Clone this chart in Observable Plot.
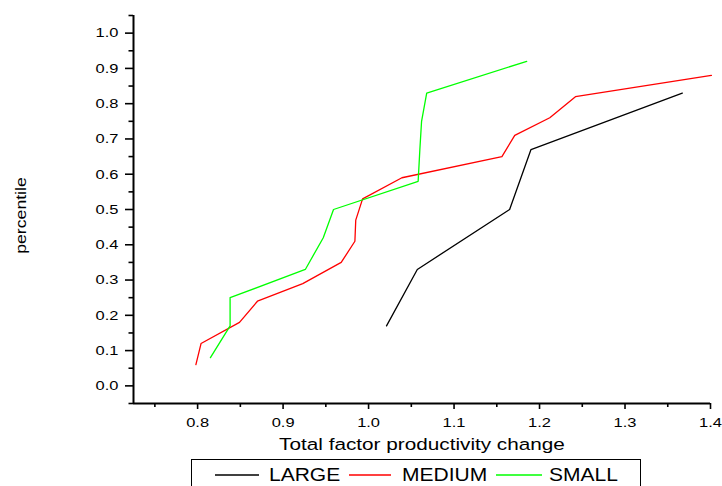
<!DOCTYPE html>
<html>
<head>
<meta charset="utf-8">
<script src="https://cdn.jsdelivr.net/npm/d3@7"></script>
<script src="https://cdn.jsdelivr.net/npm/@observablehq/plot@0.6"></script>
<style>
  html, body { margin: 0; padding: 0; background: #fff; }
  #wrap { position: relative; width: 722px; height: 486px; overflow: hidden; font-family: "Liberation Sans", Arial, sans-serif; }
  #wrap svg { display: block; }
  #legend { position: absolute; left: 191px; top: 459px; width: 450px; height: 40px; border: 1px solid #000; box-sizing: border-box; background: #fff; }
  .sw { position: absolute; top: 14px; height: 2px; opacity: 0.75; }
  .lb { position: absolute; top: 4.6px; font-size: 17.5px; line-height: 20px; transform: scaleX(1.2); transform-origin: left center; color: #000; white-space: nowrap; }
</style>
</head>
<body>
<div id="wrap"><div id="legend"></div></div>
<script>
// ---- data ----
const seriesNames = ["LARGE", "MEDIUM", "SMALL"];
const seriesColors = ["#000000", "#ff0000", "#00ff00"];

const largeX = [1.021, 1.057, 1.165, 1.190, 1.367];
const largeY = [0.17, 0.33, 0.50, 0.67, 0.83];

const mediumX = [0.798, 0.804, 0.849, 0.870, 0.923, 0.968, 0.984, 0.985, 0.993, 1.039, 1.156, 1.171, 1.212, 1.242, 1.401];
const mediumY = [0.06, 0.12, 0.18, 0.24, 0.29, 0.35, 0.41, 0.47, 0.53, 0.59, 0.65, 0.71, 0.76, 0.82, 0.88];

const smallX = [0.815, 0.838, 0.838, 0.926, 0.947, 0.959, 1.058, 1.060, 1.062, 1.068, 1.185];
const smallY = [0.08, 0.17, 0.25, 0.33, 0.42, 0.50, 0.58, 0.67, 0.75, 0.83, 0.92];

const xDomain = [0.725, 1.4];
const yDomain = [-0.05, 1.05];
const xTicks = [0.8, 0.9, 1.0, 1.1, 1.2, 1.3, 1.4];
const xMinor = [0.75, 0.85, 0.95, 1.05, 1.15, 1.25, 1.35];
const yTicks = [0.0, 0.1, 0.2, 0.3, 0.4, 0.5, 0.6, 0.7, 0.8, 0.9, 1.0];
const yMinor = [-0.05, 0.05, 0.15, 0.25, 0.35, 0.45, 0.55, 0.65, 0.75, 0.85, 0.95, 1.05];

const xLabel = "Total factor productivity change";
const yLabel = "percentile";

// ---- build table ----
const seriesX = [largeX, mediumX, smallX];
const seriesY = [largeY, mediumY, smallY];
const rows = [];
seriesNames.forEach((name, s) => {
  seriesX[s].forEach((x, i) => rows.push({series: name, x, y: seriesY[s][i]}));
});

const fmt = d3.format(".1f");
const font = '"Liberation Sans", Arial, sans-serif';

const chart = Plot.plot({
  width: 722,
  height: 458,
  marginLeft: 133,
  marginRight: 12,
  marginTop: 15,
  marginBottom: 55,
  style: {fontFamily: font, fontSize: "13px", color: "#000", background: "#fff", overflow: "visible"},
  x: {domain: xDomain},
  y: {domain: yDomain},
  color: {domain: seriesNames, range: seriesColors},
  marks: [
    Plot.axisX({ticks: xMinor, tickSize: 4, tickFormat: () => "", label: null, strokeWidth: 1.6}),
    Plot.axisX({ticks: xTicks, tickSize: 6, tickPadding: 8, tickFormat: fmt, label: null, strokeWidth: 1.6, fontSize: 13.5}),
    Plot.axisY({ticks: yMinor, tickSize: 4.5, tickFormat: () => "", label: null, strokeWidth: 1.6}),
    Plot.axisY({ticks: yTicks, tickSize: 8, tickPadding: 7, tickFormat: fmt, label: null, strokeWidth: 1.6, fontSize: 13.5}),
    Plot.ruleX([xDomain[0]], {stroke: "#000", strokeWidth: 2}),
    Plot.ruleY([yDomain[0]], {stroke: "#000", strokeWidth: 2}),
    Plot.line(rows, {x: "x", y: "y", z: "series", stroke: "series", strokeWidth: 1.3}),
    Plot.text([xLabel], {text: d => d, frameAnchor: "bottom", textAnchor: "middle", dy: 46, fontSize: 17}),
    Plot.text([yLabel], {text: d => d, frameAnchor: "left", textAnchor: "middle", dx: -112.5, dy: 6, rotate: -90, fontSize: 14.5})
  ]
});

// horizontally stretched lettering, as in the reference
chart.querySelectorAll("text").forEach(t => {
  const tr = t.getAttribute("transform");
  if (tr) {
    t.setAttribute("transform", tr + " scale(1.22,1)");
  } else {
    const x = +(t.getAttribute("x") || 0), y = +(t.getAttribute("y") || 0);
    t.setAttribute("transform", `translate(${x},${y}) scale(1.22,1) translate(${-x},${-y})`);
  }
});

const wrap = document.getElementById("wrap");
wrap.insertBefore(chart, wrap.firstChild);

// ---- legend ----
const legend = document.getElementById("legend");
const swLeft = [22.5, 156.5, 303.5];
const swWidth = [44, 42, 46];
const lbLeft = [76.5, 210, 356.5];
seriesNames.forEach((name, i) => {
  const sw = document.createElement("div");
  sw.className = "sw";
  sw.style.left = swLeft[i] + "px";
  sw.style.width = swWidth[i] + "px";
  sw.style.background = seriesColors[i];
  legend.appendChild(sw);
  const lb = document.createElement("span");
  lb.className = "lb";
  lb.style.left = lbLeft[i] + "px";
  lb.textContent = name;
  legend.appendChild(lb);
});
</script>
</body>
</html>
